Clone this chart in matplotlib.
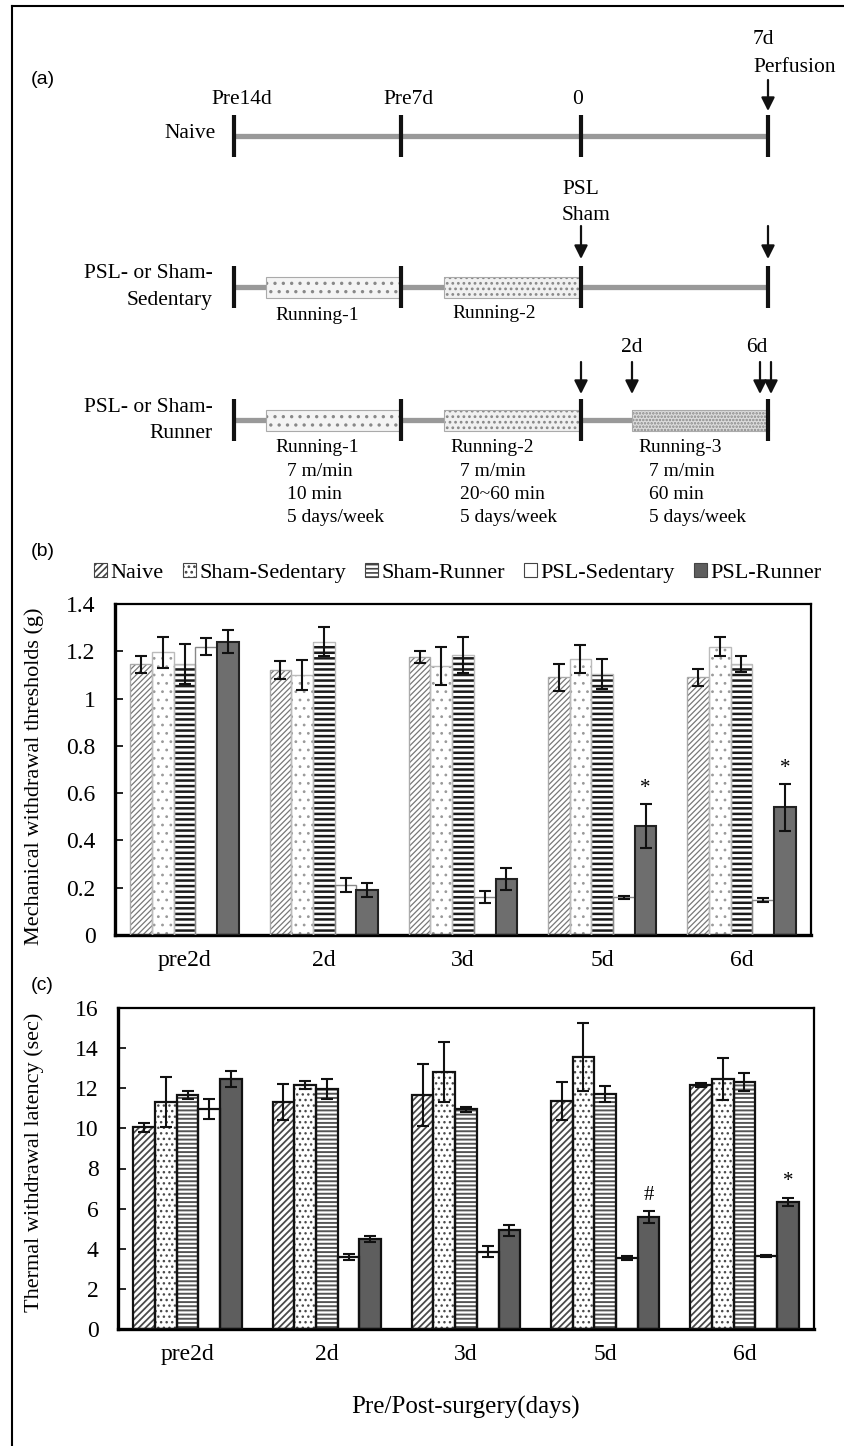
import numpy as np
import matplotlib
matplotlib.use('Agg')
import matplotlib.pyplot as plt
from matplotlib.patches import Rectangle, Patch

plt.rcParams['font.family'] = ['Liberation Serif', 'DejaVu Serif']
plt.rcParams['hatch.linewidth'] = 1.2

groups = ['pre2d', '2d', '3d', '5d', '6d']
series = ['Naive', 'Sham-Sedentary', 'Sham-Runner', 'PSL-Sedentary', 'PSL-Runner']

# (b) mechanical withdrawal thresholds (g)
naive_m = [1.145, 1.12, 1.175, 1.09, 1.09]
naive_m_err = [0.035, 0.038, 0.026, 0.057, 0.037]
shamsed_m = [1.196, 1.10, 1.138, 1.168, 1.22]
shamsed_m_err = [0.065, 0.063, 0.079, 0.058, 0.042]
shamrun_m = [1.145, 1.241, 1.184, 1.104, 1.146]
shamrun_m_err = [0.085, 0.062, 0.077, 0.063, 0.035]
pslsed_m = [1.22, 0.213, 0.16, 0.159, 0.148]
pslsed_m_err = [0.035, 0.03, 0.025, 0.005, 0.008]
pslrun_m = [1.241, 0.19, 0.237, 0.461, 0.54]
pslrun_m_err = [0.05, 0.03, 0.045, 0.092, 0.10]
marks_m = ['', '', '', '*', '*']

# (c) thermal withdrawal latency (sec)
naive_t = [10.05, 11.30, 11.65, 11.37, 12.15]
naive_t_err = [0.24, 0.89, 1.55, 0.94, 0.10]
shamsed_t = [11.33, 12.17, 12.83, 13.54, 12.46]
shamsed_t_err = [1.25, 0.20, 1.50, 1.70, 1.03]
shamrun_t = [11.66, 11.96, 10.96, 11.71, 12.33]
shamrun_t_err = [0.20, 0.50, 0.13, 0.40, 0.45]
pslsed_t = [10.97, 3.60, 3.86, 3.55, 3.64]
pslsed_t_err = [0.50, 0.15, 0.26, 0.10, 0.05]
pslrun_t = [12.46, 4.49, 4.92, 5.58, 6.33]
pslrun_t_err = [0.40, 0.13, 0.26, 0.29, 0.22]
marks_t = ['', '', '', '#', '*']

fig = plt.figure(figsize=(8.45, 14.46), dpi=100)

# ---------- (a) timeline, drawn in pixel units ----------
axa = fig.add_axes([0, 0, 1, 1])
axa.set_xlim(0, 845)
axa.set_ylim(1446, 0)
axa.axis('off')

# frame
axa.plot([12, 12], [6, 1446], color='black', lw=1.5)
axa.plot([12, 845], [6, 6], color='black', lw=1.5)

axa.text(31, 80, '(a)', family='Liberation Sans', fontsize=14, va='center')
axa.text(31, 552, '(b)', family='Liberation Sans', fontsize=14, va='center')
axa.text(31, 985, '(c)', family='Liberation Sans', fontsize=14, va='center')

tick_x = [234, 401, 581, 768]
rows_y = [136, 287, 420]
grey = '#999999'

for y in rows_y:
    axa.plot([tick_x[0], tick_x[-1]], [y, y], color=grey, lw=3.8, solid_capstyle='butt', zorder=1)
    for x in tick_x:
        axa.plot([x, x], [y - 21, y + 21], color='#111111', lw=3, solid_capstyle='butt', zorder=4)

tfs = 15.5
for x, lab in zip([242, 409, 578], ['Pre14d', 'Pre7d', '0']):
    axa.text(x, 100, lab, fontsize=tfs, ha='center', va='center')
axa.text(753, 40, '7d', fontsize=tfs, ha='left', va='center')
axa.text(753, 67, 'Perfusion', fontsize=tfs, ha='left', va='center')
axa.text(216, 134, 'Naive', fontsize=tfs, ha='right', va='center')
axa.text(213, 274, 'PSL- or Sham-', fontsize=tfs, ha='right', va='center')
axa.text(213, 301, 'Sedentary', fontsize=tfs, ha='right', va='center')
axa.text(213, 407, 'PSL- or Sham-', fontsize=tfs, ha='right', va='center')
axa.text(213, 433, 'Runner', fontsize=tfs, ha='right', va='center')
axa.text(562, 190, 'PSL', fontsize=tfs, ha='left', va='center')
axa.text(562, 215, 'Sham', fontsize=tfs, ha='left', va='center')
axa.text(632, 347, '2d', fontsize=tfs, ha='center', va='center')
axa.text(757, 347, '6d', fontsize=tfs, ha='center', va='center')


def arrow(x, y0, y1):
    axa.annotate('', xy=(x, y1), xytext=(x, y0),
                 arrowprops=dict(arrowstyle='-|>', lw=1.6, color='#111111',
                                 mutation_scale=20, shrinkA=0, shrinkB=0))


arrow(768, 80, 111)
arrow(581, 226, 259)
arrow(768, 226, 259)
for x in [581, 632, 760, 771]:
    arrow(x, 362, 394)

# running blocks
blocks = [(266, 401, '..', '#f4f4f4'), (444, 581, '...', '#f0f0f0'), (632, 769, '.....', '#dcdcdc')]
for y in rows_y[1:]:
    n = 2 if y == rows_y[1] else 3
    for x0, x1, h, fc in blocks[:n]:
        axa.add_patch(Rectangle((x0, y - 10.5), x1 - x0, 21, facecolor=fc,
                                edgecolor='#888888', hatch=h, lw=0, zorder=2))
        axa.add_patch(Rectangle((x0, y - 10.5), x1 - x0, 21, fill=False,
                                edgecolor='#aaaaaa', lw=0.8, zorder=3))

rfs = 14
axa.text(275, 315, 'Running-1', fontsize=rfs, va='center')
axa.text(452, 313, 'Running-2', fontsize=rfs, va='center')
axa.text(275, 447, 'Running-1', fontsize=rfs, va='center')
axa.text(450, 447, 'Running-2', fontsize=rfs, va='center')
axa.text(638, 447, 'Running-3', fontsize=rfs, va='center')
for x, lines in [(287, ['7 m/min', '10 min', '5 days/week']),
                 (460, ['7 m/min', '20~60 min', '5 days/week']),
                 (649, ['7 m/min', '60 min', '5 days/week'])]:
    for i, s in enumerate(lines):
        axa.text(x, 471 + 23.5 * i, s, fontsize=rfs, va='center')

# ---------- bar panels ----------
w = 0.156
b_styles = [
    dict(fc='white', hc='#777777', hatch='//////', ec='#aaaaaa', lw=1.0, hlw=0.9),
    dict(fc='white', hc='#999999', hatch='..', ec='#bbbbbb', lw=1.0, hlw=0.8),
    dict(fc='white', hc='#1a1a1a', hatch='---', ec='#bbbbbb', lw=1.0, hlw=1.8),
    dict(fc='white', hc='white', hatch=None, ec='#888888', lw=1.0, hlw=1.0),
    dict(fc='#6e6e6e', hc='#6e6e6e', hatch=None, ec='#222222', lw=1.5, hlw=1.0),
]
c_styles = [
    dict(fc='white', hc='#4a4a4a', hatch='/////', ec='#111111', lw=1.6, hlw=1.3),
    dict(fc='white', hc='#4a4a4a', hatch='...', ec='#111111', lw=1.6, hlw=1.0),
    dict(fc='white', hc='#555555', hatch='----', ec='#111111', lw=1.6, hlw=1.4),
    dict(fc='white', hc='white', hatch=None, ec='#111111', lw=1.6, hlw=1.0),
    dict(fc='#5e5e5e', hc='#5e5e5e', hatch=None, ec='#111111', lw=1.6, hlw=1.0),
]


def draw_panel(ax, vals, errs, styles, marks, mark_off):
    idx = np.arange(len(groups))
    for k in range(len(series)):
        st = styles[k]
        x = idx + (k - 2) * w
        hb = ax.bar(x, vals[k], w, color=st['fc'], edgecolor=st['hc'],
                    hatch=st['hatch'], linewidth=0, zorder=2)
        for p in hb:
            if hasattr(p, 'set_hatch_linewidth'):
                p.set_hatch_linewidth(st['hlw'])
        ax.bar(x, vals[k], w, fill=False, edgecolor=st['ec'], linewidth=st['lw'], zorder=3)
        ax.errorbar(x, vals[k], yerr=errs[k], fmt='none', ecolor='#111111',
                    elinewidth=1.5, capsize=4, capthick=1.5, zorder=4)
    top = np.array(vals[-1]) + np.array(errs[-1])
    for i, m in enumerate(marks):
        if m:
            ax.text(idx[i] + 2 * w, top[i] + mark_off, m, fontsize=15, ha='center', va='center')
    ax.set_xlim(-0.5, len(groups) - 0.5)
    ax.set_xticks(idx)
    ax.set_xticklabels(groups, fontsize=17)
    ax.tick_params(axis='x', length=0, pad=11)
    ax.tick_params(axis='y', direction='in', length=6, width=1.2, labelsize=17, pad=14)
    for s in ['left', 'bottom']:
        ax.spines[s].set_linewidth(2.4)
    for s in ['top', 'right']:
        ax.spines[s].set_linewidth(1.6)


axb = fig.add_axes([115 / 845, 1 - 935 / 1446, 696 / 845, 331 / 1446])
draw_panel(axb, [naive_m, shamsed_m, shamrun_m, pslsed_m, pslrun_m],
           [naive_m_err, shamsed_m_err, shamrun_m_err, pslsed_m_err, pslrun_m_err],
           b_styles, marks_m, 0.065)
axb.set_ylim(0, 1.4)
axb.set_yticks(np.arange(0, 1.41, 0.2))
axb.set_yticklabels([f'{v:g}' for v in np.round(np.arange(0, 1.41, 0.2), 1)])
axb.set_ylabel('Mechanical withdrawal thresholds (g)', fontsize=16)
axb.yaxis.set_label_coords(-0.102, 0.48)

axc = fig.add_axes([118 / 845, 1 - 1329 / 1446, 696 / 845, 321 / 1446])
draw_panel(axc, [naive_t, shamsed_t, shamrun_t, pslsed_t, pslrun_t],
           [naive_t_err, shamsed_t_err, shamrun_t_err, pslsed_t_err, pslrun_t_err],
           c_styles, marks_t, 0.8)
axc.set_ylim(0, 16)
axc.set_yticks(np.arange(0, 17, 2))
axc.set_ylabel('Thermal withdrawal latency (sec)', fontsize=16)
axc.yaxis.set_label_coords(-0.106, 0.52)
axc.set_xlabel('Pre/Post-surgery(days)', fontsize=18, labelpad=22)

handles = [Patch(facecolor=st['fc'], edgecolor='#444444', hatch=st['hatch'], lw=0.8)
           for st in c_styles]
fig.legend(handles, series, ncol=5, loc='center', bbox_to_anchor=(458 / 845, 1 - 573 / 1446),
           frameon=False, fontsize=16, handlelength=0.6, handleheight=0.6,
           handletextpad=0.15, columnspacing=0.85, borderaxespad=0)

fig.savefig('out.png', dpi=100)
